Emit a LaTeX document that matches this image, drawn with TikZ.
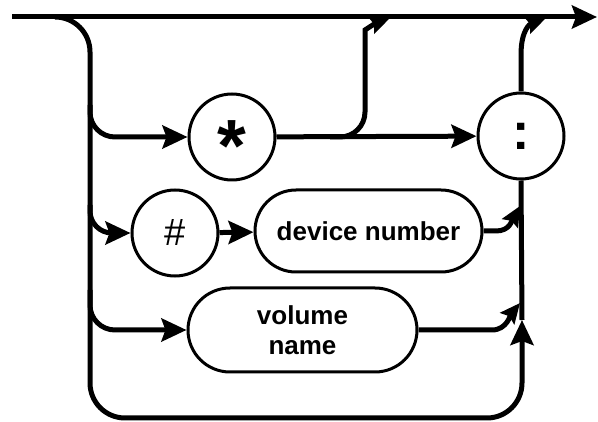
\documentclass[tikz,border=0pt]{standalone}
\usepackage{fontspec}
\setmainfont{Liberation Sans}
\usetikzlibrary{arrows.meta,shapes.misc}

\begin{document}
\begin{tikzpicture}
[
x=1pt,y=-1pt,
line/.style={line width=5pt},
arr/.style={-{Stealth[length=25pt,width=23pt,inset=4pt]}},
sarr/.style={-{Stealth[length=20pt,width=18pt,inset=3pt]}},
terminal/.style={draw,circle,line width=3pt,minimum size=86pt,inner sep=0pt},
nonterminal/.style 2 args={draw,rounded rectangle,line width=3pt,minimum width=#1,minimum height=#2,inner sep=0pt,align=center,font=\fontsize{26}{30}\selectfont\bfseries},
]
\useasboundingbox (0,0) rectangle (598,422);

%Place the nodes
\node[terminal,font=\fontsize{74}{74}\selectfont\bfseries] (star) at (232,137) {\raisebox{-0.46em}[0pt][0pt]{*}};
\node[terminal,font=\fontsize{52}{52}\selectfont\bfseries] (colon) at (521,136) {:};
\node[terminal,font=\fontsize{38}{38}\selectfont] (hash) at (175,233) {\#};
\node[nonterminal={227pt}{82pt}] (devnum) at (368.5,231) {device number};
\node[nonterminal={229pt}{84pt}] (volname) at (302.5,330) {volume\\name};

%Free ends of the lines
\coordinate (in) at (12,17);
\coordinate (out) at (597,17);
\coordinate (split) at (58,17);
\coordinate (bl) at (90,418);
\coordinate (br1) at (90,105);
\coordinate (br2) at (90,205);
\coordinate (br3) at (90,290);
\coordinate (by) at (330,137);
\coordinate (bytop) at (365,55);
\coordinate (join1) at (390,18);
\coordinate (ctop) at (521,55);
\coordinate (join2) at (546,18);
\coordinate (d1) at (496,231);
\coordinate (up1) at (520,206);
\coordinate (v1) at (492,330);
\coordinate (up2) at (520,303);
\coordinate (upin) at (522,320);

%Draw the connections
\draw[line,arr] (in) -- (out);
\draw[line,arr,rounded corners=35] (split) -| (bl) -| (upin);
\draw[line] (upin) -- (colon.south);
\draw[line,arr,rounded corners=25] (br1) |- (star.west);
\draw[line,arr,rounded corners=22] (br2) |- (hash.west);
\draw[line,arr,rounded corners=25] (br3) |- (volname.west);
\draw[line,arr] (star) -- (colon);
\draw[line,arr] (hash) -- (devnum);
\draw[line,sarr,rounded corners=25] (by) -| (bytop) .. controls (365,30) and (374,24) .. (join1);
\draw[line,sarr] (colon.north) -- (ctop) .. controls (521,30) and (530,24) .. (join2);
\draw[line,sarr] (devnum.east) -- (d1) .. controls (510,231) and (512,220) .. (up1);
\draw[line,sarr] (volname.east) -- (v1) .. controls (507,330) and (511,314) .. (up2);
\end{tikzpicture}
\end{document}
